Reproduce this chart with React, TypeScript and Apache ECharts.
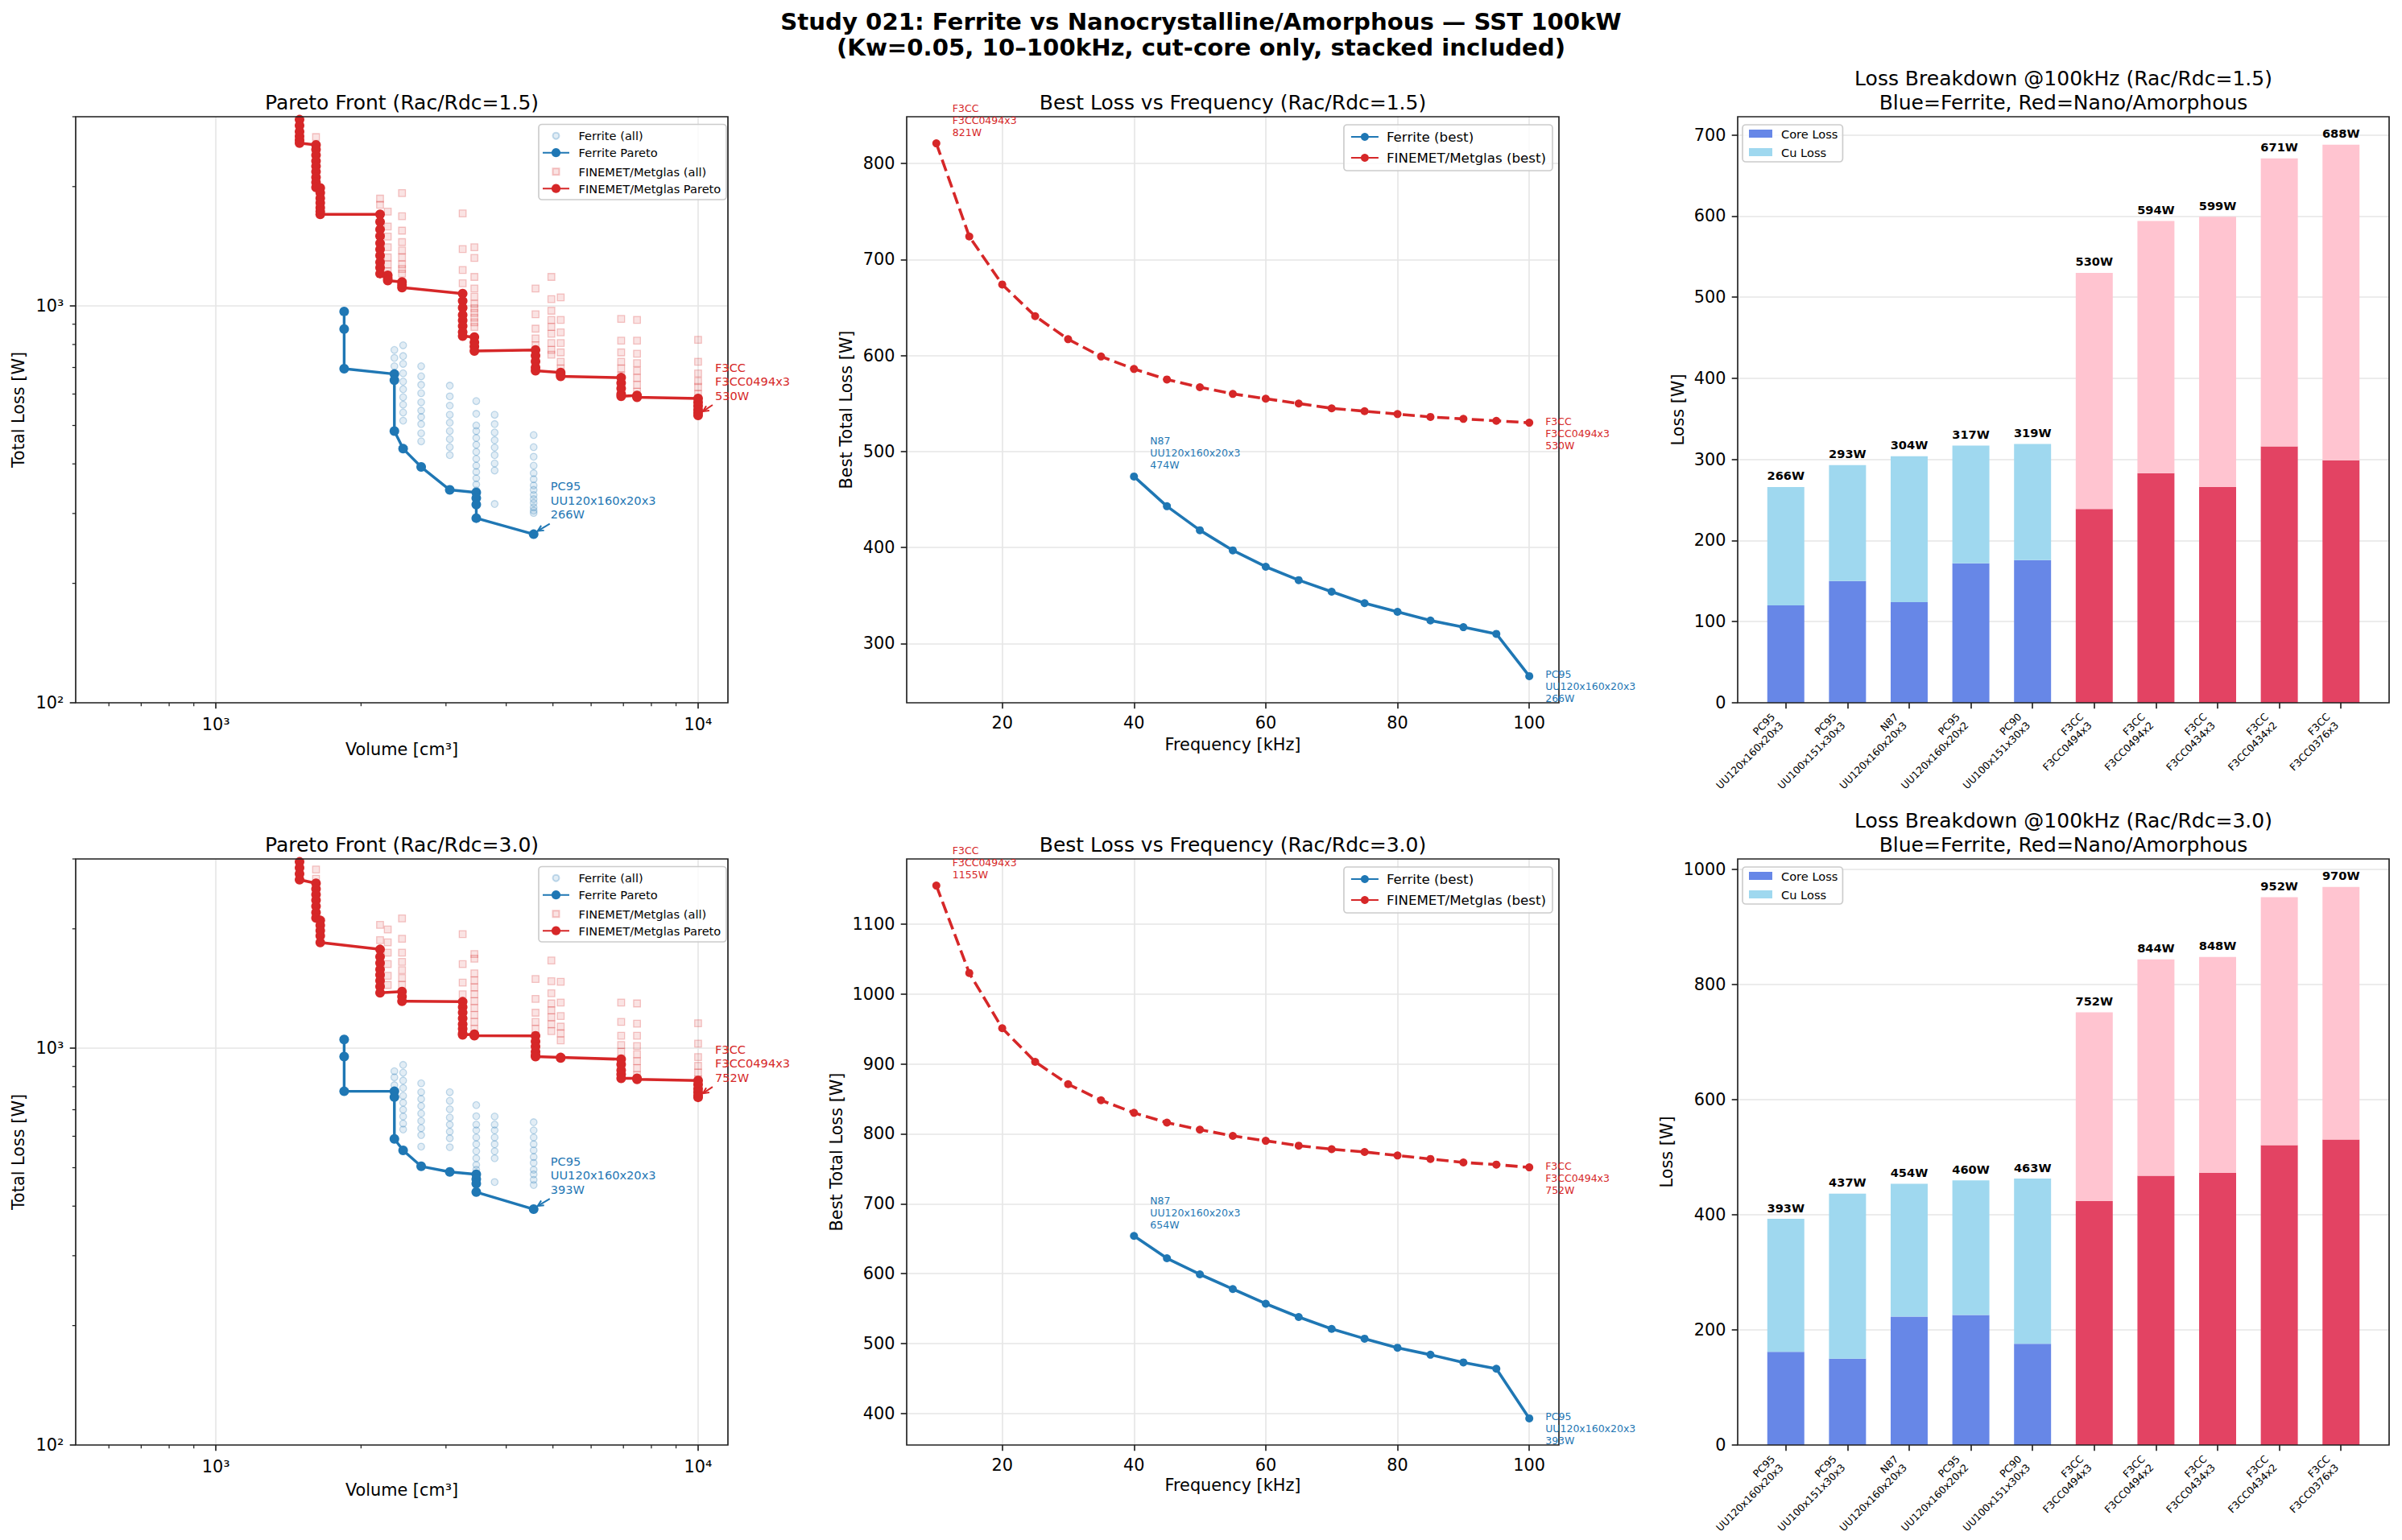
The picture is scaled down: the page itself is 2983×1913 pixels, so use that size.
import React, { useEffect, useRef } from "react";
import * as echarts from "echarts";

const FONT = "DejaVu Sans";
const W = 2983;
const H = 1913;

// ---------------- DATA ----------------
// Pareto front, Rac/Rdc = 1.5 : volume [cm3] columns with total losses [W]
const ferParetoVol15 = [1845, 1845, 1845, 2345, 2345, 2345, 2445, 2665, 3055, 3467, 3467, 3467, 3467, 4560];
const ferParetoLoss15 = [969, 875, 695, 674, 650, 484, 437, 393, 344, 339, 328, 316, 292, 266];
const ferAll15: [number, number[]][] = [
  [2345, [775, 740, 705]],
  [2445, [796, 748, 715, 677, 645, 617, 589, 564, 539, 514]],
  [2665, [705, 665, 633, 603, 572, 545, 525, 504, 478, 456]],
  [3055, [630, 592, 561, 532, 508, 484, 462, 441, 421]],
  [3467, [576, 535, 500, 484, 465, 447, 429, 412, 396, 382, 368, 355, 343, 332]],
  [3785, [532, 504, 480, 459, 440, 421, 401, 385, 317]],
  [4560, [473, 441, 417, 396, 379, 366, 353, 344, 334, 326, 319, 311, 305, 301]],
];
const nanoPareto15: [number, number[]][] = [
  [1491, [3300, 3100, 2950, 2850, 2750, 2680, 2620, 2574]],
  [1613, [2547, 2480, 2400, 2320, 2250, 2180, 2110, 2050, 1990]],
  [1646, [1984, 1930, 1870, 1820, 1770, 1730, 1702]],
  [2190, [1702, 1630, 1560, 1500, 1440, 1390, 1340, 1290, 1250, 1207]],
  [2272, [1195, 1175, 1159]],
  [2432, [1150, 1130, 1113]],
  [3249, [1075, 1030, 990, 950, 920, 890, 860, 840]],
  [3436, [835, 810, 790, 770]],
  [4601, [775, 750, 725, 700, 687]],
  [5188, [680, 672, 665]],
  [6925, [660, 640, 620, 600, 592]],
  [7470, [595, 592, 589]],
  [10000, [585, 572, 560, 548, 538, 530]],
];
const nanoAll15: [number, number[]][] = [
  [1613, [2666, 2427]],
  [2190, [1865, 1800]],
  [2272, [1730, 1587, 1496, 1406, 1326, 1274, 1223]],
  [2432, [1926, 1684, 1549, 1449, 1380, 1326, 1274, 1240, 1207]],
  [3249, [1712, 1392, 1233, 1141]],
  [3436, [1406, 1322, 1184, 1107, 1055, 1013, 987, 961, 935, 910, 886]],
  [4601, [1107, 953, 877, 829, 796, 764, 734]],
  [4963, [1184, 1041, 973, 923, 886, 851, 807, 775, 754]],
  [5188, [1052, 923, 858, 807, 764, 724, 696]],
  [6925, [928, 818, 764, 724, 696, 668]],
  [7470, [923, 818, 758, 718, 687, 659, 633, 608]],
  [10000, [822, 724, 676, 647, 625, 600, 576, 554]],
];

// Pareto front, Rac/Rdc = 3.0
const ferParetoVol30 = [1845, 1845, 1845, 2345, 2345, 2345, 2445, 2665, 3055, 3467, 3467, 3467, 3467, 4560];
const ferParetoLoss30 = [1052, 953, 779, 779, 753, 591, 553, 504, 488, 481, 468, 456, 434, 393];
const ferAll30: [number, number[]][] = [
  [2345, [875, 845, 807]],
  [2445, [908, 868, 829, 794, 759, 729, 700, 673, 646, 624]],
  [2665, [816, 775, 745, 715, 685, 656, 629, 604, 565]],
  [3055, [775, 737, 702, 669, 642, 616, 593, 563]],
  [3467, [719, 674, 642, 621, 596, 573, 550, 528, 508, 494]],
  [3785, [673, 642, 621, 596, 573, 550, 528, 460]],
  [4560, [651, 621, 596, 573, 553, 532, 514, 494, 481, 466, 452]],
];
const nanoPareto30: [number, number[]][] = [
  [1491, [3300, 3100, 2950, 2850, 2750, 2660]],
  [1613, [2604, 2520, 2440, 2360, 2280, 2200, 2130]],
  [1646, [2100, 2040, 1980, 1920, 1848]],
  [2190, [1775, 1700, 1640, 1580, 1530, 1480, 1430, 1380]],
  [2432, [1390, 1350, 1314]],
  [3249, [1310, 1270, 1230, 1190, 1150, 1120, 1090, 1081]],
  [3436, [1085, 1080, 1076]],
  [4601, [1075, 1040, 1010, 980, 960, 953]],
  [5188, [948, 945]],
  [6925, [938, 910, 880, 860, 840]],
  [7470, [840, 835]],
  [10000, [829, 810, 790, 775, 760, 752]],
];
const nanoAll30: [number, number[]][] = [
  [1613, [2822, 2675]],
  [2190, [2046, 1873, 1742]],
  [2272, [1992, 1848, 1742, 1629, 1523, 1444]],
  [2432, [2124, 1888, 1742, 1651, 1573, 1503, 1444]],
  [3249, [1940, 1629, 1463, 1368]],
  [3436, [1728, 1682, 1544, 1483, 1424, 1368, 1314, 1263, 1213, 1165, 1119]],
  [4601, [1495, 1332, 1229, 1165, 1119, 1075]],
  [4963, [1664, 1475, 1376, 1297, 1246, 1197, 1150, 1104]],
  [5188, [1471, 1304, 1206, 1134, 1090, 1047]],
  [6925, [1304, 1165, 1075, 1019, 979, 940, 903]],
  [7470, [1297, 1153, 1075, 1013, 966, 928, 891, 856]],
  [10000, [1156, 1027, 950, 903, 868, 834, 800, 769]],
];
const paretoBestFer = ["PC95", "UU120x160x20x3"];
const paretoBestNano = ["F3CC", "F3CC0494x3"];
const logMinorX = [600, 700, 800, 900, 2000, 3000, 4000, 5000, 6000, 7000, 8000, 9000];
const logMinorY = [200, 300, 400, 500, 600, 700, 800, 900, 2000, 3000];

// Best loss vs frequency
const freqFer = [40, 45, 50, 55, 60, 65, 70, 75, 80, 85, 90, 95, 100];
const freqNano = [10, 15, 20, 25, 30, 35, 40, 45, 50, 55, 60, 65, 70, 75, 80, 85, 90, 95, 100];
const ferBest15 = [474, 443, 418, 397, 380, 366, 354, 342, 333, 324, 317, 310, 266];
const nanoBest15 = [821, 724, 674, 641, 617, 599, 586, 575, 567, 560, 555, 550, 545, 542, 539, 536, 534, 532, 530];
const ferBest30 = [654, 622, 599, 578, 557, 538, 521, 507, 494, 484, 473, 464, 393];
const nanoBest30 = [1155, 1030, 951, 903, 871, 848, 830, 816, 806, 797, 790, 783, 778, 774, 769, 764, 759, 756, 752];
const ferBestFirstName = ["N87", "UU120x160x20x3"];
const ferBestLastName = ["PC95", "UU120x160x20x3"];
const nanoBestName = ["F3CC", "F3CC0494x3"];
const freqTicks = [20, 40, 60, 80, 100];
const freqYTicks15 = [300, 400, 500, 600, 700, 800];
const freqYTicks30 = [400, 500, 600, 700, 800, 900, 1000, 1100];

// Loss breakdown @100kHz
const barMaterial = ["PC95", "PC95", "N87", "PC95", "PC90", "F3CC", "F3CC", "F3CC", "F3CC", "F3CC"];
const barCore = ["UU120x160x20x3", "UU100x151x30x3", "UU120x160x20x3", "UU120x160x20x2", "UU100x151x30x3",
  "F3CC0494x3", "F3CC0494x2", "F3CC0434x3", "F3CC0434x2", "F3CC0376x3"];
const ferriteMaterials = ["PC95", "N87", "PC90"];
const total15 = [266, 293, 304, 317, 319, 530, 594, 599, 671, 688];
const coreLoss15 = [120, 150, 124, 172, 176, 239, 283, 266, 316, 299];
const total30 = [393, 437, 454, 460, 463, 752, 844, 848, 952, 970];
const coreLoss30 = [162, 150, 223, 226, 176, 424, 468, 473, 521, 531];
const barTicks15 = [0, 100, 200, 300, 400, 500, 600, 700];
const barTicks30 = [0, 200, 400, 600, 800, 1000];

// ---------------- STYLE / LAYOUT ----------------
const COL_L = [94, 1126, 2158];
const GRID_W = [810, 810, 809];
const ROW_T = [145, 1067];
const GRID_H = 728;
const C_FER = "#1f77b4";
const C_NANO = "#d62728";
const C_CORE_F = "#6787e7";
const C_CU_F = "#9fd8ef";
const C_CORE_N = "#e34363";
const C_CU_N = "#ffc4d0";
const GRIDLINE = "#e6e6e6";
const SPINE = "#222222";
const FS_TICK = 20.8;

const sup: Record<number, string> = { 1: "¹", 2: "²", 3: "³", 4: "⁴", 5: "⁵" };
const logFmt = (v: number) => {
  const e = Math.log10(v);
  const r = Math.round(e);
  return Math.abs(e - r) < 1e-6 && sup[r] ? "10" + sup[r] : "";
};
const plainFmt = (v: number) => String(Math.round(v * 1000) / 1000);

const tickStyle = { show: true, length: 7.3, lineStyle: { color: SPINE, width: 1.67 } };
const labelStyle = { color: "#000", fontSize: FS_TICK, fontFamily: FONT, margin: 14.6 };
const splitStyle = { show: true, lineStyle: { color: GRIDLINE, width: 1.67 } };
const nameStyle = { color: "#000", fontSize: FS_TICK, fontFamily: FONT };
const noLine = { show: false, onZero: false };

const flat = (cols: [number, number[]][]) => cols.flatMap(([v, ls]) => ls.map((l) => [v, l]));

function annotationSeries(ai: number, pts: any[]) {
  return {
    type: "custom",
    xAxisIndex: ai,
    yAxisIndex: ai,
    clip: false,
    silent: true,
    z: 9,
    data: pts.map((p) => [p.x, p.y]),
    renderItem: (params: any, api: any) => {
      const p = pts[params.dataIndex];
      const c = api.coord([api.value(0), api.value(1)]);
      const children: any[] = [
        {
          type: "text",
          x: c[0] + p.dx,
          y: c[1] + p.dy,
          style: {
            text: p.text,
            fill: p.color,
            fontSize: p.fs,
            fontFamily: FONT,
            lineHeight: p.lh,
            align: "left",
            verticalAlign: p.va,
          },
        },
      ];
      if (p.arrow) {
        const [sx, sy, ex, ey] = p.arrow;
        const x1 = c[0] + sx, y1 = c[1] + sy, x2 = c[0] + ex, y2 = c[1] + ey;
        const ang = Math.atan2(y2 - y1, x2 - x1);
        const hl = 8, ha = 0.45;
        children.push({ type: "line", shape: { x1, y1, x2, y2 }, style: { stroke: p.color, lineWidth: 2 } });
        children.push({
          type: "polyline",
          shape: {
            points: [
              [x2 - hl * Math.cos(ang - ha), y2 - hl * Math.sin(ang - ha)],
              [x2, y2],
              [x2 - hl * Math.cos(ang + ha), y2 - hl * Math.sin(ang + ha)],
            ],
          },
          style: { stroke: p.color, lineWidth: 2, fill: null },
        });
      }
      return { type: "group", children };
    },
  };
}

function minorTickSeries(ai: number) {
  return [
    {
      type: "custom",
      xAxisIndex: ai,
      yAxisIndex: ai,
      clip: false,
      silent: true,
      z: 6,
      data: logMinorX.map((v) => [v, 1000]),
      renderItem: (params: any, api: any) => {
        const cs = params.coordSys;
        const c = api.coord([api.value(0), api.value(1)]);
        const yb = cs.y + cs.height;
        return { type: "line", shape: { x1: c[0], y1: yb, x2: c[0], y2: yb + 4.2 }, style: { stroke: SPINE, lineWidth: 1.25 } };
      },
    },
    {
      type: "custom",
      xAxisIndex: ai,
      yAxisIndex: ai,
      clip: false,
      silent: true,
      z: 6,
      data: logMinorY.map((v) => [1000, v]),
      renderItem: (params: any, api: any) => {
        const cs = params.coordSys;
        const c = api.coord([api.value(0), api.value(1)]);
        return { type: "line", shape: { x1: cs.x, y1: c[1], x2: cs.x - 4.2, y2: c[1] }, style: { stroke: SPINE, lineWidth: 1.25 } };
      },
    },
  ];
}

function buildOption() {
  const grids: any[] = [];
  const xAxes: any[] = [];
  const yAxes: any[] = [];
  const series: any[] = [];
  const legends: any[] = [];
  const graphics: any[] = [];
  const titles: any[] = [
    {
      text: "Study 021: Ferrite vs Nanocrystalline/Amorphous — SST 100kW\n(Kw=0.05, 10–100kHz, cut-core only, stacked included)",
      left: W / 2,
      top: 11,
      textAlign: "center",
      padding: 0,
      textStyle: { fontSize: 29.2, fontWeight: "bold", fontFamily: FONT, color: "#000", lineHeight: 32 },
    },
  ];

  const rows = [
    {
      rac: "1.5",
      ferAll: ferAll15, ferVol: ferParetoVol15, ferLoss: ferParetoLoss15, nanoAll: nanoAll15, nanoPareto: nanoPareto15,
      ferBest: ferBest15, nanoBest: nanoBest15, fyMin: 238.25, fyMax: 848.75, fySplit: 5, fyTicks: freqYTicks15, fyGap: 65,
      total: total15, core: coreLoss15, byMax: 722.4, byTicks: barTicks15, byGap: 64, xnGapP: 47, xnGapF: 41,
    },
    {
      rac: "3.0",
      ferAll: ferAll30, ferVol: ferParetoVol30, ferLoss: ferParetoLoss30, nanoAll: nanoAll30, nanoPareto: nanoPareto30,
      ferBest: ferBest30, nanoBest: nanoBest30, fyMin: 354.9, fyMax: 1193.1, fySplit: 8, fyTicks: freqYTicks30, fyGap: 77,
      total: total30, core: coreLoss30, byMax: 1018.5, byTicks: barTicks30, byGap: 78, xnGapP: 45, xnGapF: 39,
    },
  ];

  rows.forEach((d, r) => {
    const top = ROW_T[r];
    const off = top - ROW_T[0];
    const base = r * 4;
    const titleStyle = { fontSize: 25, fontWeight: "normal", fontFamily: FONT, color: "#000", lineHeight: 30 };
    const frame = { show: true, borderColor: SPINE, borderWidth: 1.67, z: 5, backgroundColor: "transparent" };

    // ---------- Pareto (log-log) ----------
    const gP = base;
    grids.push({ left: COL_L[0], top, width: GRID_W[0], height: GRID_H, ...frame });
    xAxes.push({
      type: "log", logBase: 10, gridIndex: gP, min: 512, max: 11530,
      axisLine: noLine, axisTick: tickStyle,
      axisLabel: { ...labelStyle, margin: 16, formatter: logFmt, showMinLabel: false, showMaxLabel: false },
      splitLine: splitStyle,
      name: "Volume [cm³]", nameLocation: "middle", nameGap: d.xnGapP, nameTextStyle: nameStyle,
    });
    yAxes.push({
      type: "log", logBase: 10, gridIndex: gP, min: 100, max: 3000,
      axisLine: noLine, axisTick: tickStyle,
      axisLabel: { ...labelStyle, formatter: logFmt, showMaxLabel: false },
      splitLine: splitStyle,
      name: "Total Loss [W]", nameLocation: "middle", nameGap: 61, nameTextStyle: nameStyle,
    });
    titles.push({ text: `Pareto Front (Rac/Rdc=${d.rac})`, left: COL_L[0] + GRID_W[0] / 2, top: top - 33, textAlign: "center", padding: 0, textStyle: titleStyle });
    series.push({
      type: "scatter", name: "Ferrite (all)", xAxisIndex: gP, yAxisIndex: gP, symbol: "circle", symbolSize: 8.5,
      itemStyle: { color: "rgba(31,119,180,0.16)", borderColor: "rgba(31,119,180,0.32)", borderWidth: 1.3 },
      data: flat(d.ferAll),
    });
    series.push({
      type: "line", name: "Ferrite Pareto", xAxisIndex: gP, yAxisIndex: gP, symbol: "circle", symbolSize: 12,
      showAllSymbol: true, lineStyle: { color: C_FER, width: 3.4 }, itemStyle: { color: C_FER },
      data: d.ferVol.map((v, i) => [v, d.ferLoss[i]]),
    });
    series.push({
      type: "scatter", name: "FINEMET/Metglas (all)", xAxisIndex: gP, yAxisIndex: gP, symbol: "rect", symbolSize: 8.5,
      itemStyle: { color: "rgba(214,39,40,0.16)", borderColor: "rgba(214,39,40,0.32)", borderWidth: 1.3 },
      data: flat(d.nanoAll),
    });
    series.push({
      type: "line", name: "FINEMET/Metglas Pareto", xAxisIndex: gP, yAxisIndex: gP, symbol: "circle", symbolSize: 12,
      showAllSymbol: true, lineStyle: { color: C_NANO, width: 3.5 }, itemStyle: { color: C_NANO },
      data: flat(d.nanoPareto),
    });
    series.push(...minorTickSeries(gP));
    const fl = d.ferLoss.length - 1;
    const nLast = d.nanoPareto[d.nanoPareto.length - 1];
    const nanoBestVol = nLast[0];
    const nanoBestLoss = nLast[1][nLast[1].length - 1];
    series.push(annotationSeries(gP, [
      { x: d.ferVol[fl], y: d.ferLoss[fl], text: `${paretoBestFer[0]}\n${paretoBestFer[1]}\n${d.ferLoss[fl]}W`, color: C_FER, dx: 21, dy: -16, va: "bottom", fs: 14.6, lh: 17.5, arrow: [20, -13, 5, -4] },
      { x: nanoBestVol, y: nanoBestLoss, text: `${paretoBestNano[0]}\n${paretoBestNano[1]}\n${nanoBestLoss}W`, color: C_NANO, dx: 21, dy: -16, va: "bottom", fs: 14.6, lh: 17.5, arrow: [18, -13, 6, -5] },
    ]));
    graphics.push({
      type: "rect", z: 7, shape: { x: 669, y: 154.5 + off, width: 233, height: 93.5, r: 4 },
      style: { fill: "rgba(255,255,255,0.8)", stroke: "#cccccc", lineWidth: 1.67 },
    });
    // scatter entries (small markers), centred under the line-handle markers
    legends.push({
      data: ["Ferrite (all)", "FINEMET/Metglas (all)"],
      orient: "vertical", left: 685.5, top: 160.7 + off,
      itemWidth: 8, itemHeight: 8, itemGap: 28.5, padding: 0, selectedMode: false, z: 8,
      textStyle: { fontSize: 14.6, fontFamily: FONT, color: "#000", lineHeight: 16, padding: [0, 0, 0, 19] },
    });
    legends.push({
      data: ["Ferrite Pareto", "FINEMET/Metglas Pareto"], orient: "vertical", left: 673, top: 181.7 + off,
      itemWidth: 33, itemHeight: 14, itemGap: 28.5, padding: 0, selectedMode: false, z: 8,
      textStyle: { fontSize: 14.6, fontFamily: FONT, color: "#000", lineHeight: 16, padding: [0, 0, 0, 6.6] },
    });

    // ---------- Best loss vs frequency ----------
    const gF = base + 1;
    grids.push({ left: COL_L[1], top, width: GRID_W[1], height: GRID_H, ...frame });
    xAxes.push({
      type: "value", gridIndex: gF, min: 5.5, max: 104.5, splitNumber: 5,
      axisLine: noLine, axisTick: { ...tickStyle, customValues: freqTicks },
      axisLabel: { ...labelStyle, customValues: freqTicks, formatter: plainFmt },
      splitLine: splitStyle,
      name: "Frequency [kHz]", nameLocation: "middle", nameGap: d.xnGapF, nameTextStyle: nameStyle,
    });
    yAxes.push({
      type: "value", gridIndex: gF, min: d.fyMin, max: d.fyMax, splitNumber: d.fySplit,
      axisLine: noLine, axisTick: { ...tickStyle, customValues: d.fyTicks },
      axisLabel: { ...labelStyle, customValues: d.fyTicks, formatter: plainFmt },
      splitLine: splitStyle,
      name: "Best Total Loss [W]", nameLocation: "middle", nameGap: d.fyGap, nameTextStyle: nameStyle,
    });
    titles.push({ text: `Best Loss vs Frequency (Rac/Rdc=${d.rac})`, left: COL_L[1] + GRID_W[1] / 2, top: top - 33, textAlign: "center", padding: 0, textStyle: titleStyle });
    series.push({
      type: "line", name: "Ferrite (best)", xAxisIndex: gF, yAxisIndex: gF, symbol: "circle", symbolSize: 10,
      lineStyle: { color: C_FER, width: 3.6 }, itemStyle: { color: C_FER },
      data: freqFer.map((f, i) => [f, d.ferBest[i]]),
    });
    series.push({
      type: "line", name: "FINEMET/Metglas (best)", xAxisIndex: gF, yAxisIndex: gF, symbol: "circle", symbolSize: 10,
      lineStyle: { color: C_NANO, width: 3.6, type: [15, 6.5] }, itemStyle: { color: C_NANO },
      data: freqNano.map((f, i) => [f, d.nanoBest[i]]),
    });
    const fL = d.ferBest.length - 1;
    const nL = d.nanoBest.length - 1;
    series.push(annotationSeries(gF, [
      { x: freqNano[0], y: d.nanoBest[0], text: `${nanoBestName[0]}\n${nanoBestName[1]}\n${d.nanoBest[0]}W`, color: C_NANO, dx: 20, dy: -6.5, va: "bottom", fs: 12.5, lh: 15 },
      { x: freqFer[0], y: d.ferBest[0], text: `${ferBestFirstName[0]}\n${ferBestFirstName[1]}\n${d.ferBest[0]}W`, color: C_FER, dx: 20, dy: -6.5, va: "bottom", fs: 12.5, lh: 15 },
      { x: freqNano[nL], y: d.nanoBest[nL], text: `${nanoBestName[0]}\n${nanoBestName[1]}\n${d.nanoBest[nL]}W`, color: C_NANO, dx: 20, dy: -9.5, va: "top", fs: 12.5, lh: 15 },
      { x: freqFer[fL], y: d.ferBest[fL], text: `${ferBestLastName[0]}\n${ferBestLastName[1]}\n${d.ferBest[fL]}W`, color: C_FER, dx: 20, dy: -9.5, va: "top", fs: 12.5, lh: 15 },
    ]));
    legends.push({
      data: ["Ferrite (best)", "FINEMET/Metglas (best)"], orient: "vertical", right: W - 1928, top: 155 + off,
      itemWidth: 34, itemHeight: 12.5, itemGap: 7, padding: [5.5, 8, 6.5, 8], selectedMode: false,
      backgroundColor: "rgba(255,255,255,0.8)", borderColor: "#cccccc", borderWidth: 1.67, borderRadius: 4,
      textStyle: { fontSize: 16.7, fontFamily: FONT, color: "#000", lineHeight: 19, padding: [0, 0, 0, 5] }, z: 8,
    });

    // ---------- Loss breakdown bars ----------
    const gB = base + 2;
    const gBi = base + 3;
    const unit = GRID_W[2] / 10.56;
    grids.push({ left: COL_L[2], top, width: GRID_W[2], height: GRID_H, ...frame });
    grids.push({ left: COL_L[2] + 0.28 * unit, top, width: 10 * unit, height: GRID_H, show: false });
    xAxes.push({ type: "value", gridIndex: gB, min: -0.78, max: 9.78, show: false, axisLine: noLine });
    yAxes.push({
      type: "value", gridIndex: gB, min: 0, max: d.byMax, splitNumber: 5,
      axisLine: noLine, axisTick: { ...tickStyle, customValues: d.byTicks },
      axisLabel: { ...labelStyle, customValues: d.byTicks, formatter: plainFmt },
      splitLine: splitStyle,
      name: "Loss [W]", nameLocation: "middle", nameGap: d.byGap, nameTextStyle: nameStyle,
    });
    xAxes.push({
      type: "category", gridIndex: gBi, data: barMaterial.map((m, i) => `${m}\n${barCore[i]}`),
      axisLine: noLine, axisTick: { ...tickStyle, alignWithLabel: true },
      axisLabel: { interval: 0, rotate: 45, fontSize: 12.5, lineHeight: 15, color: "#000", fontFamily: FONT, margin: 31, align: "right", verticalAlign: "bottom" },
      splitLine: { show: false },
    });
    yAxes.push({ type: "value", gridIndex: gBi, min: 0, max: d.byMax, show: false, axisLine: noLine });
    titles.push({
      text: `Loss Breakdown @100kHz (Rac/Rdc=${d.rac})\nBlue=Ferrite, Red=Nano/Amorphous`,
      left: COL_L[2] + GRID_W[2] / 2, top: top - 62, textAlign: "center", padding: 0,
      textStyle: { ...titleStyle, lineHeight: 29.5 },
    });
    const isFer = (i: number) => ferriteMaterials.includes(barMaterial[i]);
    const totals = d.total;
    series.push({
      type: "bar", name: "Core Loss", xAxisIndex: gBi, yAxisIndex: gBi, stack: `loss${r}`, barWidth: "60%",
      itemStyle: { color: C_CORE_F },
      data: d.core.map((v, i) => ({ value: v, itemStyle: { color: isFer(i) ? C_CORE_F : C_CORE_N } })),
    });
    series.push({
      type: "bar", name: "Cu Loss", xAxisIndex: gBi, yAxisIndex: gBi, stack: `loss${r}`, barWidth: "60%",
      itemStyle: { color: C_CU_F },
      label: {
        show: true, position: "top", distance: 6, fontSize: 14.6, fontWeight: "bold", color: "#000", fontFamily: FONT, lineHeight: 16,
        formatter: (p: any) => `${totals[p.dataIndex]}W`,
      },
      data: d.core.map((v, i) => ({ value: totals[i] - v, itemStyle: { color: isFer(i) ? C_CU_F : C_CU_N } })),
    });
    legends.push({
      data: ["Core Loss", "Cu Loss"], orient: "vertical", left: 2164, top: 155 + off, icon: "rect",
      itemWidth: 29, itemHeight: 10, itemGap: 7, padding: [3, 6, 4, 8], selectedMode: false,
      backgroundColor: "rgba(255,255,255,0.8)", borderColor: "#cccccc", borderWidth: 1.67, borderRadius: 4,
      textStyle: { fontSize: 14.6, fontFamily: FONT, color: "#000", lineHeight: 16, padding: [0, 0, 0, 6] }, z: 8,
    });
  });

  return {
    animation: false,
    backgroundColor: "#ffffff",
    textStyle: { fontFamily: FONT },
    title: titles,
    grid: grids,
    xAxis: xAxes,
    yAxis: yAxes,
    legend: legends,
    graphic: graphics,
    series,
  };
}

export default function App() {
  const ref = useRef<HTMLDivElement>(null);
  useEffect(() => {
    if (!ref.current) return;
    const chart = echarts.init(ref.current, null, { renderer: "svg", width: W, height: H });
    chart.setOption(buildOption() as any);
    return () => chart.dispose();
  }, []);
  return <div ref={ref} style={{ position: "absolute", left: 0, top: 0, width: W, height: H, background: "#fff" }} />;
}
